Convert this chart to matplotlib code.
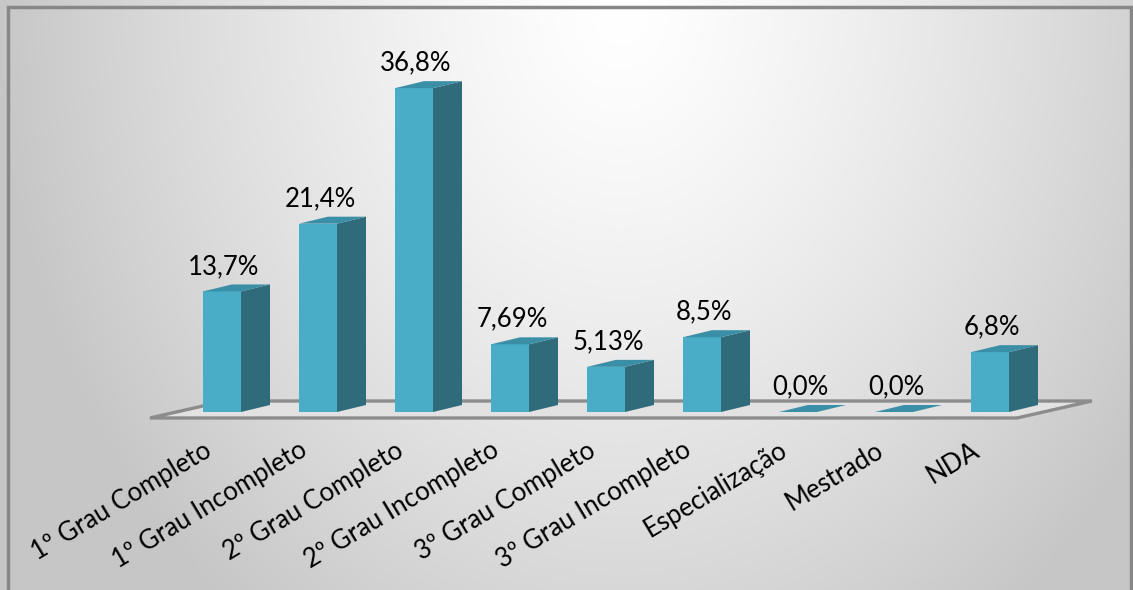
import numpy as np
import matplotlib
matplotlib.use("Agg")
import matplotlib.pyplot as plt
from matplotlib.patches import Rectangle, Polygon

plt.rcParams['font.family'] = ['Lato', 'DejaVu Sans']

# escolaridade - percentuais
categorias = ['1º Grau Completo', '1º Grau Incompleto', '2º Grau Completo',
              '2º Grau Incompleto', '3º Grau Completo', '3º Grau Incompleto',
              'Especialização', 'Mestrado', 'NDA']
valores = [13.7, 21.4, 36.8, 7.69, 5.13, 8.5, 0.0, 0.0, 6.8]
rotulos = ['13,7%', '21,4%', '36,8%', '7,69%', '5,13%', '8,5%', '0,0%', '0,0%', '6,8%']

cor_frente = '#4AADC8'
cor_lado = '#2F6B7B'
cor_topo = '#3A8EA5'

W, H = 1133, 590
fig = plt.figure(figsize=(W / 100, H / 100), dpi=100)

# fundo com degrade
bg = fig.add_axes([0, 0, 1, 1], zorder=0)
yy, xx = np.mgrid[0:H, 0:W]
d = np.sqrt(((xx - 620) / 620.0) ** 2 + ((yy - 10) / 760.0) ** 2)
d = np.clip(d, 0, 1)
g = 1.0 - 0.22 * d ** 1.3
bg.imshow(np.dstack([g, g, g]), aspect='auto', extent=[0, W, H, 0])
bg.set_axis_off()

ax = fig.add_axes([0, 0, 1, 1], zorder=1)
ax.patch.set_visible(False)
ax.set_xlim(-222 / 96, (W - 222) / 96)
ax.set_ylim((412 - H) / 8.8, 412 / 8.8)
ax.set_axis_off()

larg = 0.396          # largura da barra
px, py = 0.302, 0.795  # profundidade da barra
fx, fy = 0.78, 1.93    # profundidade do piso
piso_y = -0.68

# piso
n = len(categorias)
x0, x1 = -0.75, n - 1 + 0.281
ax.add_patch(Polygon([(x0, piso_y), (x1, piso_y), (x1 + fx, piso_y + fy), (x0 + fx, piso_y + fy)],
                     closed=True, facecolor='#e2e2e2', edgecolor='#8c8c8c', lw=2.4, zorder=1))

for i, v in enumerate(valores):
    l, r = i - larg / 2, i + larg / 2
    if v > 0:
        ax.add_patch(Rectangle((l, 0), larg, v, facecolor=cor_frente, edgecolor='none', zorder=2))
        ax.add_patch(Polygon([(r, 0), (r + px, py), (r + px, v + py), (r, v)],
                             closed=True, facecolor=cor_lado, edgecolor='none', zorder=2))
    ax.add_patch(Polygon([(l, v), (r, v), (r + px, v + py), (l + px, v + py)],
                         closed=True, facecolor=cor_topo, edgecolor='none', zorder=2))
    ax.text(i + 0.02, v + 2.0, rotulos[i], ha='center', va='baseline', fontsize=18.5, zorder=3)
    ax.text(i - 0.2, -2.9, categorias[i], ha='right', va='top', rotation=31,
            rotation_mode='anchor', fontsize=18.5, zorder=3)

# moldura
fig.add_artist(Rectangle((7.5 / W, -0.05), (1131 - 7.5) / W, 1.05 - 7 / H,
                         transform=fig.transFigure, fill=False, edgecolor='#878787', lw=2.5))

fig.savefig('out.png', dpi=100)
